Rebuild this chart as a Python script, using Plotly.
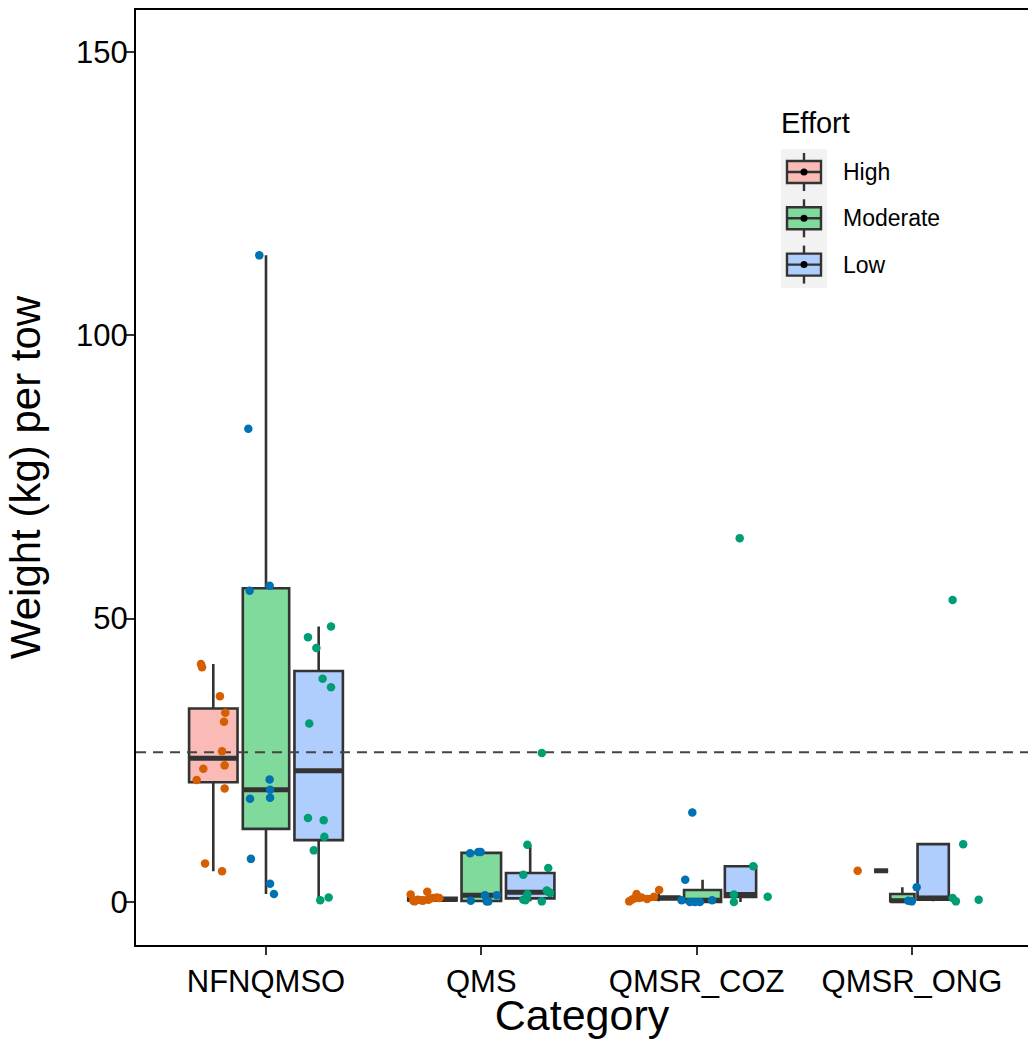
import numpy as np
import plotly.graph_objects as go

# ---------------- data ----------------
categories = ["NFNQMSO", "QMS", "QMSR_COZ", "QMSR_ONG"]
efforts = ["High", "Moderate", "Low"]

# weight (kg) per tow for each category / effort level
nfnqmso_high = [42.0, 41.4, 36.3, 33.4, 31.8, 26.6, 23.5, 24.1, 21.5, 20.0, 6.8, 5.4]
nfnqmso_moderate = [114.1, 83.5, 54.9, 55.8, 21.6, 19.8, 18.2, 18.4, 7.6, 3.2, 1.4]
nfnqmso_low = [48.6, 46.7, 44.8, 39.4, 37.9, 31.5, 14.8, 14.4, 11.5, 9.1, 0.3, 0.8]
qms_high = [1.3, 0.2, 0.4, 0.2, 1.8, 0.4, 0.7, 0.8, 0.7, 0.1, 0.3, 0.5]
qms_moderate = [8.6, 8.8, 8.8, 0.2, 1.2, 0.1, 0.1, 1.2]
qms_low = [26.3, 10.1, 6.0, 4.8, 1.4, 2.0, 1.6, 0.4, 0.1, 0.7, 0.3, 1.8]
coz_high = [0.1, 0.4, 1.4, 0.8, 0.9, 2.1, 0.6, 0.7, 0.5]
coz_moderate = [15.8, 3.9, 0.3, 0.0, 0.0, 0.0, 0.3]
coz_low = [64.2, 6.3, 1.3, 0.0, 0.9]
ong_high = [5.5]
ong_moderate = [2.6, 0.2, 0.1]
ong_low = [53.3, 10.2, 0.7, 0.1, 0.4]

# horizontal jitter of each point (category units), as seen in the picture
nfnqmso_high_jit = [-0.052, -0.047, 0.036, 0.061, 0.055, 0.046, -0.041, 0.058, -0.072, 0.058, -0.033, 0.046]
nfnqmso_moderate_jit = [-0.031, -0.082, -0.076, 0.017, 0.017, 0.019, -0.074, 0.019, -0.070, 0.019, 0.037]
nfnqmso_low_jit = [0.052, -0.055, -0.016, 0.013, 0.052, -0.049, -0.055, 0.018, 0.021, -0.028, 0.002, 0.041]
qms_high_jit = [-0.078, -0.066, -0.044, -0.021, -0.001, 0.004, 0.024, 0.043, 0.055, -0.060, -0.030, 0.010]
qms_moderate_jit = [-0.052, -0.014, -0.003, -0.049, 0.017, 0.025, 0.033, 0.072]
qms_low_jit = [0.031, -0.036, 0.061, -0.055, -0.036, 0.054, 0.069, -0.055, 0.031, -0.039, -0.045, 0.060]
coz_high_jit = [-0.063, -0.052, -0.029, -0.006, 0.052, 0.076, -0.040, -0.018, 0.020]
coz_moderate_jit = [-0.020, -0.053, -0.070, -0.031, -0.008, 0.015, 0.072]
coz_low_jit = [-0.050, 0.013, -0.077, -0.077, 0.080]
ong_high_jit = [-0.002]
ong_moderate_jit = [0.022, -0.017, -0.001]
ong_low_jit = [-0.061, -0.012, -0.061, -0.046, 0.060]

reference_line = 26.4
y_ticks = [0, 50, 100, 150]

# table built from the lists above
values = {
    ("NFNQMSO", "High"): (nfnqmso_high, nfnqmso_high_jit),
    ("NFNQMSO", "Moderate"): (nfnqmso_moderate, nfnqmso_moderate_jit),
    ("NFNQMSO", "Low"): (nfnqmso_low, nfnqmso_low_jit),
    ("QMS", "High"): (qms_high, qms_high_jit),
    ("QMS", "Moderate"): (qms_moderate, qms_moderate_jit),
    ("QMS", "Low"): (qms_low, qms_low_jit),
    ("QMSR_COZ", "High"): (coz_high, coz_high_jit),
    ("QMSR_COZ", "Moderate"): (coz_moderate, coz_moderate_jit),
    ("QMSR_COZ", "Low"): (coz_low, coz_low_jit),
    ("QMSR_ONG", "High"): (ong_high, ong_high_jit),
    ("QMSR_ONG", "Moderate"): (ong_moderate, ong_moderate_jit),
    ("QMSR_ONG", "Low"): (ong_low, ong_low_jit),
}

# ---------------- styles ----------------
FONT = "Liberation Sans, Arial, Helvetica, sans-serif"
box_fill = {"High": "#FABAB5", "Moderate": "#80DA9B", "Low": "#AFCDFD"}
point_col = {"High": "#D55E00", "Moderate": "#0072B2", "Low": "#009E73"}
EDGE = "#333333"

DODGE = 0.75          # total dodge width per category
PAD = 0.1             # dodge2 padding
X_RANGE = [-0.6037, 3.539]
Y_RANGE = [-7.6, 157.4]

n_max = max(len(v[0]) for v in values.values())

fig = go.Figure()
medians = []
points = []
for ci, cat in enumerate(categories):
    # varwidth slots, placed side by side (dodge2)
    slots = [DODGE / 3 * np.sqrt(len(values[(cat, e)][0]) / n_max) for e in efforts]
    start = ci - sum(slots) / 2
    for ei, eff in enumerate(efforts):
        y, jit = values[(cat, eff)]
        y = np.array(y, dtype=float)
        center = start + sum(slots[:ei]) + slots[ei] / 2
        w = slots[ei] * (1 - PAD)
        q1, med, q3 = np.percentile(y, [25, 50, 75])
        iqr = q3 - q1
        lo = y[y >= q1 - 1.5 * iqr].min()
        hi = y[y <= q3 + 1.5 * iqr].max()
        fig.add_trace(go.Box(
            x=[center], q1=[q1], median=[med], q3=[q3],
            lowerfence=[lo], upperfence=[hi], width=w,
            fillcolor=box_fill[eff], line=dict(color=EDGE, width=2.6),
            whiskerwidth=0, boxpoints=False, name=eff, showlegend=False,
            hoverinfo="skip"))
        medians.append((center, w, med))
        px = ci + (ei - 1) * (DODGE / 3) + np.array(jit)
        points.append((px, y, eff))

for center, w, med in medians:
    fig.add_trace(go.Scatter(x=[center - w / 2, center + w / 2], y=[med, med],
                             mode="lines", line=dict(color=EDGE, width=5),
                             showlegend=False, hoverinfo="skip"))

fig.add_trace(go.Scatter(x=X_RANGE, y=[reference_line, reference_line], mode="lines",
                         line=dict(color="#444444", width=2, dash="10px,7px"),
                         showlegend=False, hoverinfo="skip"))

for px, y, eff in points:
    fig.add_trace(go.Scatter(x=px, y=y, mode="markers",
                             marker=dict(size=8.5, color=point_col[eff], line=dict(width=0)),
                             showlegend=False, hoverinfo="skip"))

# ---------------- legend (drawn, ggplot style) ----------------
W, H = 1028, 1039
L, R, T, B = 136, 0, 10, 94
PW, PH = W - L - R, H - T - B


def xp(px):
    return (px - L) / PW


def yp(py):
    return (H - B - py) / PH


shapes = []
annotations = []
shapes.append(dict(type="rect", xref="paper", yref="paper", x0=xp(781), x1=xp(827),
                   y0=yp(149), y1=yp(288), fillcolor="#F2F2F2", line=dict(width=0),
                   layer="above"))
for i, eff in enumerate(efforts):
    yc = 172 + 46.3 * i
    xc = 804
    shapes.append(dict(type="line", xref="paper", yref="paper", x0=xp(xc), x1=xp(xc),
                       y0=yp(yc - 19), y1=yp(yc + 19), line=dict(color=EDGE, width=2.4),
                       layer="above"))
    shapes.append(dict(type="rect", xref="paper", yref="paper", x0=xp(787), x1=xp(821),
                       y0=yp(yc - 11), y1=yp(yc + 11), fillcolor=box_fill[eff],
                       line=dict(color=EDGE, width=2.4), layer="above"))
    shapes.append(dict(type="line", xref="paper", yref="paper", x0=xp(787), x1=xp(821),
                       y0=yp(yc), y1=yp(yc), line=dict(color=EDGE, width=2.4),
                       layer="above"))
    shapes.append(dict(type="circle", xref="paper", yref="paper", x0=xp(xc - 3.5),
                       x1=xp(xc + 3.5), y0=yp(yc - 3.5), y1=yp(yc + 3.5),
                       fillcolor="black", line=dict(width=0), layer="above"))
    annotations.append(dict(text=eff, xref="paper", yref="paper", x=xp(841), y=yp(yc),
                            xanchor="left", yanchor="middle", showarrow=False,
                            font=dict(size=23, color="black", family=FONT)))
annotations.append(dict(text="Effort", xref="paper", yref="paper", x=xp(779), y=yp(123),
                        xanchor="left", yanchor="middle", showarrow=False,
                        font=dict(size=29, color="black", family=FONT)))

fig.update_layout(
    width=W, height=H, margin=dict(l=L, r=R, t=T, b=B, pad=0),
    plot_bgcolor="white", paper_bgcolor="white", showlegend=False,
    font=dict(family=FONT, color="black"),
    shapes=shapes, annotations=annotations,
)
fig.update_xaxes(
    range=X_RANGE, tickmode="array", tickvals=list(range(len(categories))), ticktext=categories,
    ticks="outside", ticklen=8, tickwidth=2, tickcolor=EDGE,
    showline=True, linecolor="black", linewidth=2, mirror=True,
    showgrid=False, zeroline=False, automargin=False,
    tickfont=dict(size=31, color="black", family=FONT),
    title=dict(text="Category", font=dict(size=43, color="black", family=FONT), standoff=2),
)
fig.update_yaxes(
    range=Y_RANGE, tickmode="array", tickvals=y_ticks, ticktext=[str(t) for t in y_ticks],
    ticks="outside", ticklen=8, tickwidth=2, tickcolor=EDGE,
    showline=True, linecolor="black", linewidth=2, mirror=False,
    showgrid=False, zeroline=False, automargin=False, ticklabelstandoff=-8,
    tickfont=dict(size=31, color="black", family=FONT),
    title=dict(text="Weight (kg) per tow", font=dict(size=42, color="black", family=FONT), standoff=22),
)

fig.write_html("out.html")
